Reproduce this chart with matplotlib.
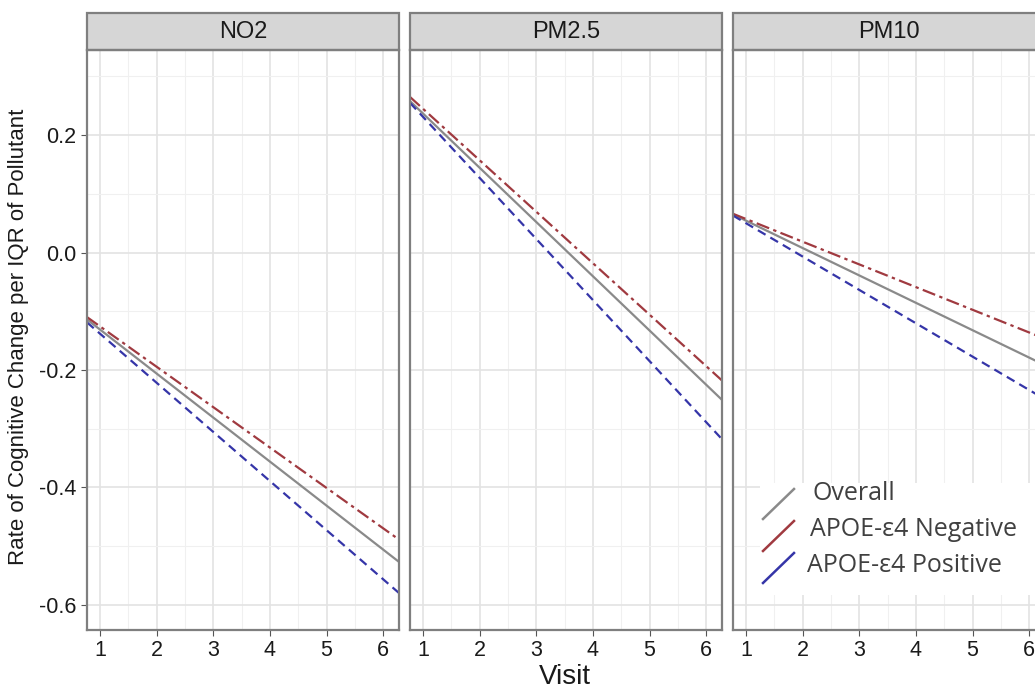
import matplotlib.pyplot as plt
from matplotlib.lines import Line2D
from matplotlib.patches import Rectangle
import numpy as np

plt.rcParams["font.family"] = ["Liberation Sans", "DejaVu Sans"]

# data: line values at the left and right edge of each panel (visit 0.77 and 6.28)
pollutants = ["NO2", "PM2.5", "PM10"]
x_ends = [0.77, 6.28]
overall = {"NO2": [-0.114, -0.527], "PM2.5": [0.258, -0.251], "PM10": [0.065, -0.192]}
apoe_neg = {"NO2": [-0.110, -0.489], "PM2.5": [0.265, -0.218], "PM10": [0.066, -0.147]}
apoe_pos = {"NO2": [-0.119, -0.580], "PM2.5": [0.255, -0.318], "PM10": [0.063, -0.250]}
visit_ticks = [1, 2, 3, 4, 5, 6]
y_ticks = [-0.6, -0.4, -0.2, 0.0, 0.2]

W, H = 1035, 690
fig = plt.figure(figsize=(W / 100, H / 100), dpi=100)

panel_left = [87, 410, 733]
panel_w = 312
top, bottom = 50, 630
strip_h = 37

for i, name in enumerate(pollutants):
    ax = fig.add_axes([panel_left[i] / W, (H - bottom) / H, panel_w / W, (bottom - top) / H])
    ax.plot(x_ends, overall[name], color="#8a8a8a", lw=1.6, solid_capstyle="butt")
    ax.plot(x_ends, apoe_neg[name], color="#a03a40", lw=1.6, ls=(0, (6, 2, 1.5, 2)))
    ax.plot(x_ends, apoe_pos[name], color="#3535a8", lw=1.6, ls=(0, (4, 2.5)))
    ax.set_xlim(0.77, 6.28)
    ax.set_ylim(-0.643, 0.345)
    ax.set_xticks(visit_ticks)
    ax.set_xticks(np.arange(1.5, 6.5, 1), minor=True)
    ax.set_yticks(y_ticks)
    ax.set_yticks(np.arange(-0.5, 0.35, 0.2), minor=True)
    ax.grid(which="major", color="#e3e3e3", lw=1.2)
    ax.grid(which="minor", color="#f0f0f0", lw=0.8)
    ax.set_axisbelow(True)
    ax.tick_params(which="minor", length=0)
    ax.tick_params(which="major", length=4, color="#555555", labelsize=15.5, labelcolor="#1a1a1a")
    ax.set_xticklabels([str(v) for v in visit_ticks])
    if i == 0:
        ax.set_yticklabels([f"{v:.1f}" for v in y_ticks])
    else:
        ax.tick_params(axis="y", left=False, labelleft=False)
    for s in ax.spines.values():
        s.set_color("#7f7f7f")
        s.set_linewidth(1.6)
    # facet strip
    sh = strip_h / (bottom - top)
    ax.add_patch(Rectangle((0, 1), 1, sh, transform=ax.transAxes, facecolor="#d6d6d6",
                           edgecolor="#7f7f7f", lw=1.6, clip_on=False))
    ax.text(0.5, 1 + sh / 2, name, transform=ax.transAxes, ha="center", va="center",
            fontsize=17, color="#1a1a1a")

fig.text(19 / W, 1 - 337 / H, "Rate of Cognitive Change per IQR of Pollutant", rotation=90,
         ha="center", va="center", fontsize=16, color="#1a1a1a")
fig.text(565 / W, 1 - 677 / H, "Visit", ha="center", va="center", fontsize=20, color="#1a1a1a")

# legend pasted onto the third panel
fig.add_artist(Rectangle((760 / W, 1 - 595 / H), 275 / W, 112 / H, transform=fig.transFigure,
                         facecolor="white", edgecolor="none"))
legend_items = [("Overall", "#8a8a8a", 504, 813, 493),
                ("APOE-ε4 Negative", "#a03a40", 536, 810, 530),
                ("APOE-ε4 Positive", "#3535a8", 568, 807, 566)]
for label, col, yc, tx, ty in legend_items:
    fig.add_artist(Line2D([763 / W, 794 / W], [1 - (yc + 15) / H, 1 - (yc - 15) / H],
                          transform=fig.transFigure, color=col, lw=1.8))
    fig.text(tx / W, 1 - ty / H, label, ha="left", va="center", fontsize=18,
             color="#404040", family=["Open Sans", "DejaVu Sans"])

fig.savefig("out.png", dpi=100)
